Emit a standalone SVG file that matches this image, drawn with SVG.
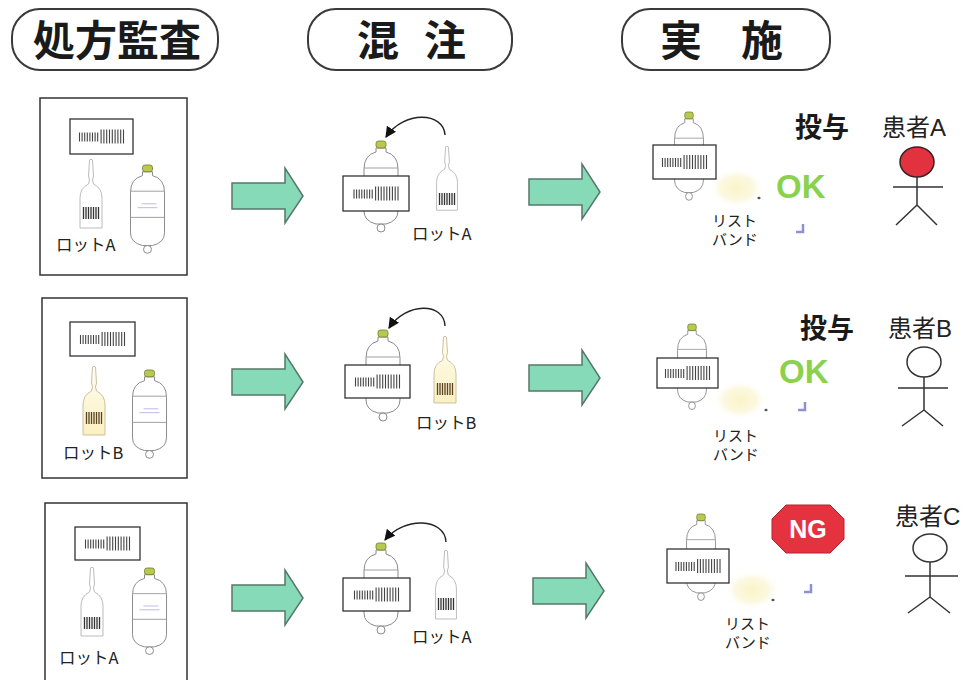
<svg xmlns="http://www.w3.org/2000/svg" xmlns:xlink="http://www.w3.org/1999/xlink" width="972" height="680" viewBox="0 0 972 680">
  <style>
    .pill { fill: #fff; stroke: #3a3a3a; stroke-width: 2; }
    .head { font-family: 'Noto Sans CJK JP', sans-serif; font-weight: 700; font-size: 42px; fill: #1a1a1a; }
    .frame { fill: #fff; stroke: #333; stroke-width: 1.5; }
    .label { fill: #fff; stroke: #333; stroke-width: 1.3; }
    .lot { font-family: 'Noto Sans CJK JP', sans-serif; font-size: 16.5px; fill: #222; }
    .band { font-family: 'Noto Sans CJK JP', sans-serif; font-size: 15px; fill: #222; }
    .give { font-family: 'Noto Sans CJK JP', sans-serif; font-weight: 700; font-size: 27px; fill: #1a1a1a; }
    .pt { font-family: 'Liberation Sans', 'Noto Sans CJK JP', sans-serif; font-size: 24px; fill: #222; }
    .ok { font-family: 'Liberation Sans', sans-serif; font-weight: 700; font-size: 33px; fill: #8ad24c; }
    .flow { fill: #86dab8; stroke: #56786a; stroke-width: 1.5; }
    .curve { fill: none; stroke: #222; stroke-width: 1.4; }
    .stick { fill: none; stroke: #333; stroke-width: 1.5; }
    .scan { fill: none; stroke: #8f90d2; stroke-width: 2.5; }
  </style>
  <defs>
    <!-- barcode stripes on the labels -->
    <path id="bc" d="M0 3V12M2.6 3V12M5.2 3V12M7.8 3V12M10.4 3V12M13 3V12M15.6 3V12M18.2 3V12M21.6 0V14M24.4 0V14M27.2 0V14M30 0V14M32.8 0V14M35.6 0V14M38.4 0V14M41.2 0V14M44 0V14" stroke="#444" stroke-width="1.1" fill="none"/>
    <!-- infusion bag, origin at cap top centre -->
    <g id="bag">
      <path d="M-5 7 L-5 11 Q-17 14 -17 28 L-17 70 Q-17 80 -5 83 L5 83 Q17 80 17 70 L17 28 Q17 14 5 11 L5 7 Z" fill="#fff" stroke="#8a8a8a" stroke-width="1"/>
      <path d="M-17 27 H17 M-17 54 H17" stroke="#a0a0a0" stroke-width="1" fill="none"/>
      <path d="M-6 40 H9 M-10 44 H10" stroke="#c0b8e6" stroke-width="1" fill="none"/>
      <rect x="-5" y="0" width="10" height="7" rx="2.5" fill="#b9c84e" stroke="#6f7c2c" stroke-width="0.8"/>
      <circle cx="0" cy="87" r="4" fill="#fff" stroke="#8a8a8a" stroke-width="1"/>
    </g>
    <!-- ampoule outline, origin at tip -->
    <path id="ampShape" d="M-1.5 0 Q0 -1.5 1.5 0 L2.5 16 L1.5 20 L2.5 24 Q11 28 11 38 L11 68 L-11 68 L-11 38 Q-11 28 -2.5 24 L-1.5 20 L-2.5 16 Z"/>
    <path id="ampBc" d="M-7.5 0V12M-5 0V12M-2.5 0V12M0 0V12M2.5 0V12M5 0V12M7.5 0V12" stroke-width="1.3" fill="none"/>
    <linearGradient id="lotB" x1="0" y1="0" x2="0" y2="1">
      <stop offset="0" stop-color="#fffdf2"/>
      <stop offset="1" stop-color="#fbf0c0"/>
    </linearGradient>
    <radialGradient id="glow">
      <stop offset="0" stop-color="#faf4c8"/>
      <stop offset="0.6" stop-color="#fcf8e0"/>
      <stop offset="1" stop-color="#fff" stop-opacity="0"/>
    </radialGradient>
    <!-- big flow arrow, origin at the shaft's left mid point -->
    <polygon id="flowArrow" points="0,-13 53,-13 53,-28 71,0 53,27 53,13 0,13"/>
    <marker id="ah" viewBox="0 0 10 10" refX="9" refY="5" markerWidth="11" markerHeight="11" markerUnits="userSpaceOnUse" orient="auto">
      <path d="M0 0 L10 5 L0 10 Z" fill="#111"/>
    </marker>
  </defs>

  <rect width="972" height="680" fill="#fff"/>

  <!-- column headings -->
  <g id="h-audit">
    <rect class="pill" x="12" y="9" width="206" height="61" rx="28"/>
    <text class="head" x="117" y="56" text-anchor="middle">処方監査</text>
  </g>
  <g id="h-mix">
    <rect class="pill" x="308" y="9" width="204" height="61" rx="28"/>
    <text class="head" x="357" y="56">混</text>
    <text class="head" x="424" y="56">注</text>
  </g>
  <g id="h-do">
    <rect class="pill" x="622" y="9" width="208" height="61" rx="28"/>
    <text class="head" x="660" y="56">実</text>
    <text class="head" x="741" y="56">施</text>
  </g>

  <!-- prescription audit panels -->
  <g id="audit-1">
    <rect class="frame" x="40" y="98" width="147" height="177"/>
    <rect class="label" x="70" y="119" width="63" height="35"/>
    <use href="#bc" x="79.5" y="129.5"/>
    <use href="#ampShape" transform="translate(91,160)" fill="#fff" stroke="#bbb" stroke-width="1"/>
    <use href="#ampBc" transform="translate(91,207)" stroke="#333"/>
    <use href="#bag" transform="translate(147.5,165) scale(1,0.97)"/>
    <text class="lot" x="56" y="251">ロットA</text>
  </g>
  <g id="audit-2">
    <rect class="frame" x="42" y="298" width="145" height="180"/>
    <rect class="label" x="70" y="322" width="65" height="34"/>
    <use href="#bc" x="80.5" y="332"/>
    <use href="#ampShape" transform="translate(94,367)" fill="url(#lotB)" stroke="#c8c0a0" stroke-width="1"/>
    <use href="#ampBc" transform="translate(94,412)" stroke="#5a4322"/>
    <use href="#bag" transform="translate(149.5,370) scale(1,0.97)"/>
    <text class="lot" x="63" y="459">ロットB</text>
  </g>
  <g id="audit-3">
    <rect class="frame" x="45" y="503" width="142" height="190"/>
    <rect class="label" x="75" y="527" width="65" height="33"/>
    <use href="#bc" x="85.5" y="536.5"/>
    <use href="#ampShape" transform="translate(92,568)" fill="#fff" stroke="#bbb" stroke-width="1"/>
    <use href="#ampBc" transform="translate(92,617)" stroke="#333"/>
    <use href="#bag" transform="translate(149.5,568) scale(1,0.95)"/>
    <text class="lot" x="59" y="664">ロットA</text>
  </g>

  <!-- mixing -->
  <g id="mix-1">
    <use href="#bag" transform="translate(381,141)"/>
    <rect class="label" x="343" y="176" width="66" height="35"/>
    <use href="#bc" x="354" y="186.5"/>
    <use href="#ampShape" transform="translate(447,147) scale(0.95,0.93)" fill="#fff" stroke="#bbb" stroke-width="1"/>
    <use href="#ampBc" transform="translate(447,193)" stroke="#333"/>
    <text class="lot" x="412" y="240">ロットA</text>
  </g>
  <g id="mix-2">
    <use href="#bag" transform="translate(383,330)"/>
    <rect class="label" x="345" y="365" width="65" height="33"/>
    <use href="#bc" x="355.5" y="374.5"/>
    <use href="#ampShape" transform="translate(445,337) scale(1,0.97)" fill="url(#lotB)" stroke="#c8c0a0" stroke-width="1"/>
    <use href="#ampBc" transform="translate(445,383)" stroke="#5a4322"/>
    <text class="lot" x="416" y="429">ロットB</text>
  </g>
  <g id="mix-3">
    <use href="#bag" transform="translate(381,543)"/>
    <rect class="label" x="343" y="578" width="67" height="33"/>
    <use href="#bc" x="354.5" y="587.5"/>
    <use href="#ampShape" transform="translate(446,551) scale(0.95,1)" fill="#fff" stroke="#bbb" stroke-width="1"/>
    <use href="#ampBc" transform="translate(446,598)" stroke="#333"/>
    <text class="lot" x="412" y="643">ロットA</text>
  </g>

  <!-- administration -->
  <g id="do-1">
    <ellipse cx="737" cy="188" rx="28" ry="20" fill="url(#glow)"/>
    <use href="#bag" transform="translate(689,112) scale(0.85,0.97)"/>
    <rect class="label" x="653" y="145" width="63" height="34"/>
    <use href="#bc" x="662.5" y="155"/>
    <ellipse cx="759" cy="198" rx="1.6" ry="1.2" fill="#555"/>
    <text class="band" x="712" y="226">リスト</text>
    <text class="band" x="712" y="245">バンド</text>
    <text class="give" x="795" y="137">投与</text>
    <text class="ok" x="776" y="198">OK</text>
    <path class="scan" d="M803 224 V232 H796"/>
  </g>
  <g id="do-2">
    <ellipse cx="740" cy="400" rx="28" ry="20" fill="url(#glow)"/>
    <use href="#bag" transform="translate(692,324) scale(0.85,0.94)"/>
    <rect class="label" x="657" y="358" width="61" height="30"/>
    <use href="#bc" x="665.5" y="366"/>
    <ellipse cx="766" cy="410" rx="1.6" ry="1.2" fill="#555"/>
    <text class="band" x="713" y="441">リスト</text>
    <text class="band" x="713" y="460">バンド</text>
    <text class="give" x="800" y="338">投与</text>
    <text class="ok" x="779" y="383">OK</text>
    <path class="scan" d="M805 402 V410 H798"/>
  </g>
  <g id="do-3">
    <ellipse cx="752" cy="590" rx="28" ry="20" fill="url(#glow)"/>
    <use href="#bag" transform="translate(701,514) scale(0.85,0.95)"/>
    <rect class="label" x="667" y="549" width="62" height="34"/>
    <use href="#bc" x="676" y="559"/>
    <ellipse cx="773" cy="600" rx="1.6" ry="1.2" fill="#555"/>
    <text class="band" x="725" y="629">リスト</text>
    <text class="band" x="725" y="648">バンド</text>
    <polygon points="786,505 830,505 844,519 844,539 830,553 786,553 772,539 772,519" fill="#e5323f" stroke="#b52232" stroke-width="1"/>
    <text x="808" y="538" text-anchor="middle" font-family="'Liberation Sans', sans-serif" font-weight="700" font-size="25" fill="#fff">NG</text>
    <path class="scan" d="M811 584 V592 H804"/>
  </g>

  <!-- patients -->
  <g id="patient-a">
    <text class="pt" x="882" y="136">患者A</text>
    <ellipse cx="917" cy="162" rx="17" ry="15" fill="#e2323f" stroke="#3a2020" stroke-width="1.5"/>
    <path class="stick" d="M917 177 V205 M893 187 H943 M917 205 L896 225 M917 205 L937 225"/>
  </g>
  <g id="patient-b">
    <text class="pt" x="888" y="337">患者B</text>
    <ellipse cx="924" cy="362" rx="17" ry="15" fill="#fff" stroke="#333" stroke-width="1.5"/>
    <path class="stick" d="M924 377 V410 M898 388 H948 M924 410 L902 426 M924 410 L943 426"/>
  </g>
  <g id="patient-c">
    <text class="pt" x="895" y="525">患者C</text>
    <ellipse cx="930" cy="548" rx="17" ry="14" fill="#fff" stroke="#333" stroke-width="1.5"/>
    <path class="stick" d="M930 562 V597 M905 576 H958 M930 597 L908 613 M930 597 L950 613"/>
  </g>

  <!-- connectors -->
  <g id="connectors">
    <use href="#flowArrow" class="flow" x="232" y="196"/>
    <use href="#flowArrow" class="flow" x="529" y="192"/>
    <use href="#flowArrow" class="flow" x="232" y="382"/>
    <use href="#flowArrow" class="flow" x="529" y="378"/>
    <use href="#flowArrow" class="flow" x="232" y="598"/>
    <use href="#flowArrow" class="flow" x="533" y="591"/>
    <path class="curve" marker-end="url(#ah)" d="M445 135 C444 112 404 110 386 137"/>
    <path class="curve" marker-end="url(#ah)" d="M445 326 C444 302 406 302 389 328"/>
    <path class="curve" marker-end="url(#ah)" d="M446 542 C445 518 404 516 385 540"/>
  </g>
</svg>
